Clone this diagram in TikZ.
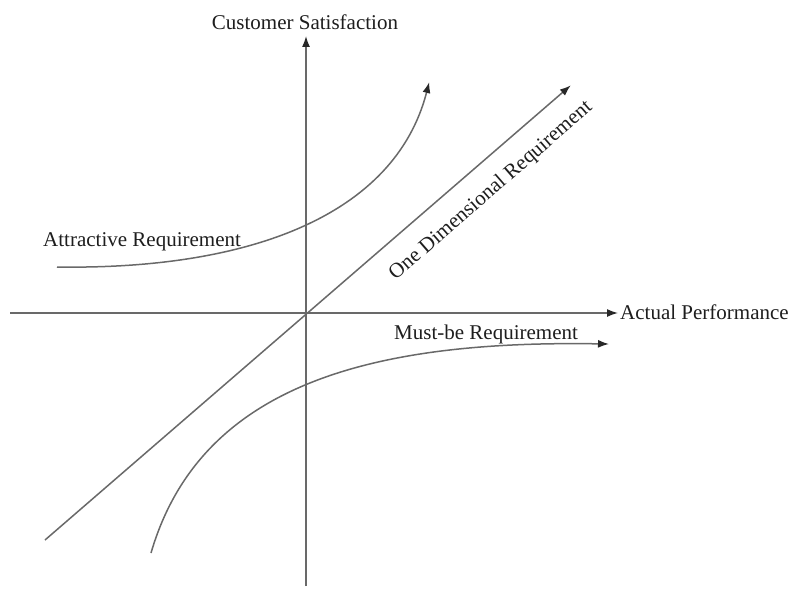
\documentclass[tikz,border=0pt]{standalone}
\usepackage{fontspec}
\setmainfont{Liberation Serif}
\usetikzlibrary{arrows.meta}
\definecolor{linegray}{RGB}{105,105,105}
\definecolor{tipgray}{RGB}{40,40,40}
\definecolor{txt}{RGB}{30,30,30}
\begin{document}
\begin{tikzpicture}[x=1pt,y=-1pt,
  curve/.style={draw=linegray,line width=1.5pt},
  arr/.style={curve,-{Latex[length=11pt,width=8pt,color=tipgray]},shorten >=-1pt},
  lbl/.style={text=txt,font=\fontsize{21}{25}\selectfont,inner sep=0pt}]
\useasboundingbox[fill=white] (0,0) rectangle (791,588);
% axes
\coordinate (xs) at (10,313);
\coordinate (xe) at (617,313);
\coordinate (ys) at (306,586);
\coordinate (ye) at (306,37);
\draw[arr] (xs) -- (xe);
\draw[arr] (ys) -- (ye);
% one-dimensional
\coordinate (os) at (45,540);
\coordinate (oe) at (570,86);
\draw[arr] (os) -- (oe);
% attractive
\coordinate (as) at (57,267);
\coordinate (ae) at (429,83);
\draw[arr] (as) .. controls (250,270) and (395,215) .. (ae);
% must-be
\coordinate (ms) at (151,553);
\coordinate (me) at (608,344);
\draw[arr] (ms) .. controls (200,385) and (370,340) .. (me);
% labels
\node[lbl,anchor=base] (cs) at (305,30) {Customer Satisfaction};
\node[lbl,anchor=base west] (ap) at (620,319) {Actual Performance};
\node[lbl,anchor=base west] (ar) at (43,246) {Attractive Requirement};
\node[lbl,anchor=base west] (mb) at (394,339) {Must-be Requirement};
\node[lbl,rotate=41] (od) at (491,191) {One Dimensional Requirement};
\end{tikzpicture}
\end{document}
